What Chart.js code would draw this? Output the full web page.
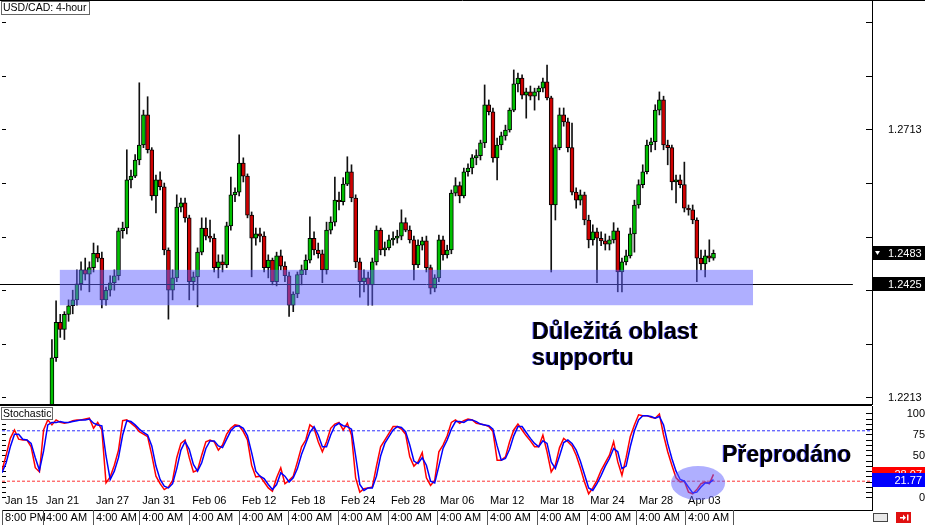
<!DOCTYPE html>
<html><head><meta charset="utf-8">
<script src="https://cdn.jsdelivr.net/npm/chart.js"></script>
<style>
html,body{margin:0;padding:0;background:#fff;width:925px;height:525px;overflow:hidden}
canvas{position:absolute;left:0;display:block}
#main{top:0}
#stoch{top:405px}
</style></head><body>
<canvas id="main" width="925" height="405"></canvas>
<canvas id="stoch" width="925" height="120"></canvas>
<script>
// ---------- DATA ----------
const chartTitle = 'USD/CAD: 4-hour';
const candleStart = 12;
const openP = [1.2135,1.2288,1.2354,1.2341,1.2369,1.2385,1.2396,1.2426,1.2452,1.2444,
1.2456,1.2483,1.2474,1.2396,1.2414,1.2428,1.2441,1.2525,1.2530,1.2620,
1.2627,1.2657,1.2685,1.2741,1.2676,1.2590,1.2620,1.2607,1.2489,1.2414,
1.2437,1.2569,1.2577,1.2549,1.2430,1.2439,1.2485,1.2530,1.2515,1.2511,
1.2456,1.2467,1.2461,1.2534,1.2592,1.2597,1.2651,1.2627,1.2554,1.2511,
1.2519,1.2515,1.2456,1.2470,1.2430,1.2478,1.2459,1.2441,1.2386,1.2407,
1.2443,1.2452,1.2470,1.2511,1.2489,1.2482,1.2452,1.2526,1.2541,1.2582,
1.2579,1.2612,1.2635,1.2586,1.2467,1.2430,1.2437,1.2424,1.2467,1.2526,
1.2489,1.2493,1.2508,1.2511,1.2515,1.2540,1.2526,1.2508,1.2461,1.2498,
1.2506,1.2456,1.2418,1.2437,1.2508,1.2480,1.2489,1.2595,1.2609,1.2590,
1.2635,1.2642,1.2661,1.2665,1.2689,1.2760,1.2747,1.2661,1.2685,1.2702,
1.2713,1.2750,1.2799,1.2810,1.2778,1.2784,1.2776,1.2784,1.2791,1.2803,
1.2773,1.2573,1.2680,1.2741,1.2728,1.2680,1.2597,1.2582,1.2592,1.2545,
1.2508,1.2523,1.2511,1.2506,1.2500,1.2508,1.2525,1.2448,1.2467,1.2478,
1.2519,1.2573,1.2611,1.2635,1.2685,1.2691,1.2750,1.2769,1.2685,1.2680,
1.2616,1.2620,1.2611,1.2567,1.2564,1.2545,1.2474,1.2463,1.2478,1.2474];
const highP = [1.2322,1.2394,1.2369,1.2374,1.2396,1.2414,1.2452,1.2467,1.2474,1.2467,
1.2502,1.2497,1.2485,1.2420,1.2441,1.2452,1.2530,1.2541,1.2676,1.2638,
1.2667,1.2801,1.2750,1.2775,1.2680,1.2629,1.2635,1.2614,1.2493,1.2452,
1.2592,1.2586,1.2586,1.2554,1.2448,1.2493,1.2549,1.2549,1.2545,1.2519,
1.2480,1.2480,1.2541,1.2625,1.2605,1.2704,1.2661,1.2631,1.2560,1.2530,
1.2530,1.2523,1.2480,1.2474,1.2485,1.2489,1.2467,1.2448,1.2411,1.2448,
1.2461,1.2480,1.2551,1.2523,1.2502,1.2489,1.2541,1.2551,1.2625,1.2597,
1.2624,1.2663,1.2648,1.2592,1.2474,1.2452,1.2448,1.2474,1.2534,1.2530,
1.2504,1.2517,1.2523,1.2526,1.2564,1.2549,1.2534,1.2515,1.2508,1.2513,
1.2515,1.2461,1.2443,1.2517,1.2515,1.2498,1.2601,1.2624,1.2616,1.2642,
1.2650,1.2667,1.2676,1.2694,1.2797,1.2769,1.2754,1.2698,1.2709,1.2722,
1.2754,1.2825,1.2819,1.2816,1.2791,1.2795,1.2791,1.2795,1.2810,1.2834,
1.2776,1.2685,1.2754,1.2754,1.2735,1.2726,1.2605,1.2601,1.2597,1.2554,
1.2536,1.2530,1.2523,1.2519,1.2515,1.2540,1.2530,1.2474,1.2489,1.2530,
1.2582,1.2620,1.2648,1.2694,1.2698,1.2760,1.2784,1.2776,1.2694,1.2685,
1.2629,1.2629,1.2653,1.2573,1.2573,1.2549,1.2489,1.2489,1.2508,1.2489];
const lowP = [1.2125,1.2281,1.2326,1.2322,1.2356,1.2370,1.2386,1.2414,1.2433,1.2411,
1.2448,1.2467,1.2381,1.2386,1.2403,1.2414,1.2433,1.2511,1.2519,1.2605,
1.2624,1.2648,1.2680,1.2670,1.2582,1.2558,1.2601,1.2480,1.2360,1.2396,
1.2430,1.2560,1.2541,1.2396,1.2414,1.2383,1.2480,1.2508,1.2504,1.2448,
1.2437,1.2448,1.2456,1.2526,1.2579,1.2590,1.2616,1.2549,1.2439,1.2498,
1.2504,1.2448,1.2437,1.2424,1.2422,1.2452,1.2430,1.2365,1.2374,1.2400,
1.2424,1.2443,1.2465,1.2480,1.2474,1.2428,1.2444,1.2519,1.2534,1.2564,
1.2573,1.2609,1.2579,1.2456,1.2401,1.2411,1.2386,1.2386,1.2461,1.2480,
1.2478,1.2489,1.2498,1.2502,1.2508,1.2523,1.2502,1.2433,1.2456,1.2489,
1.2448,1.2407,1.2411,1.2430,1.2470,1.2474,1.2482,1.2590,1.2577,1.2586,
1.2627,1.2631,1.2648,1.2657,1.2680,1.2741,1.2653,1.2620,1.2676,1.2694,
1.2709,1.2747,1.2784,1.2771,1.2735,1.2769,1.2750,1.2769,1.2784,1.2769,
1.2448,1.2545,1.2676,1.2720,1.2672,1.2592,1.2567,1.2573,1.2536,1.2493,
1.2498,1.2428,1.2497,1.2489,1.2489,1.2502,1.2411,1.2411,1.2461,1.2474,
1.2485,1.2567,1.2605,1.2631,1.2672,1.2676,1.2741,1.2676,1.2648,1.2601,
1.2577,1.2605,1.2560,1.2554,1.2538,1.2430,1.2452,1.2439,1.2467,1.2470];
const closeP = [1.2288,1.2354,1.2341,1.2369,1.2385,1.2396,1.2426,1.2452,1.2444,1.2456,
1.2483,1.2474,1.2396,1.2414,1.2428,1.2441,1.2525,1.2530,1.2620,1.2627,
1.2657,1.2685,1.2741,1.2676,1.2590,1.2620,1.2607,1.2489,1.2414,1.2437,
1.2569,1.2577,1.2549,1.2430,1.2439,1.2485,1.2530,1.2515,1.2511,1.2456,
1.2467,1.2461,1.2534,1.2592,1.2597,1.2651,1.2627,1.2554,1.2511,1.2519,
1.2515,1.2456,1.2470,1.2430,1.2478,1.2459,1.2441,1.2386,1.2407,1.2443,
1.2452,1.2470,1.2511,1.2489,1.2482,1.2452,1.2526,1.2541,1.2582,1.2579,
1.2612,1.2635,1.2586,1.2467,1.2430,1.2437,1.2424,1.2467,1.2526,1.2489,
1.2493,1.2508,1.2511,1.2515,1.2540,1.2526,1.2508,1.2461,1.2498,1.2506,
1.2456,1.2418,1.2437,1.2508,1.2480,1.2489,1.2595,1.2609,1.2590,1.2635,
1.2642,1.2661,1.2665,1.2689,1.2760,1.2747,1.2661,1.2685,1.2702,1.2713,
1.2750,1.2799,1.2810,1.2778,1.2784,1.2776,1.2784,1.2791,1.2803,1.2773,
1.2573,1.2680,1.2741,1.2728,1.2680,1.2597,1.2582,1.2592,1.2545,1.2508,
1.2523,1.2511,1.2506,1.2500,1.2508,1.2525,1.2448,1.2467,1.2478,1.2519,
1.2573,1.2611,1.2635,1.2685,1.2691,1.2750,1.2769,1.2685,1.2680,1.2616,
1.2620,1.2611,1.2567,1.2564,1.2545,1.2474,1.2463,1.2478,1.2474,1.2483];

const stochK = [33,51,71,81,70,69,69,61,36,31,
81,93,87,93,90,89,90,92,93,93,
94,95,83,90,81,18,25,39,57,92,
93,89,85,79,76,73,51,26,17,10,
13,21,48,65,69,48,31,33,51,67,
69,67,57,63,76,83,87,86,79,69,
39,25,26,19,12,8,24,36,17,21,
26,43,61,69,87,83,67,55,67,83,
88,90,81,89,75,24,7,11,12,13,
38,61,69,77,85,85,82,76,49,38,
43,54,24,15,21,55,63,74,90,93,
89,92,94,93,89,88,87,85,79,45,
45,49,67,81,88,81,74,68,61,61,
75,55,31,39,60,71,67,62,51,36,
19,5,12,21,33,42,51,67,43,27,
48,73,87,99,98,98,96,95,100,75,
55,39,24,19,20,7,5,10,17,19,
17,28.07];
const stochD = [30,42,61,76,76,70,69,65,48,33,
56,87,90,90,91,90,90,91,92,93,
93,94,89,87,86,50,22,32,48,75,
92,91,87,82,78,75,62,38,22,14,
12,17,35,57,67,58,40,32,42,59,
68,68,62,60,70,80,85,86,83,74,
54,32,26,23,16,10,16,30,26,19,
24,35,52,65,78,85,75,61,61,75,
86,89,86,85,82,50,16,9,12,12,
26,50,65,73,81,85,84,79,63,44,
41,48,39,20,18,38,59,69,82,91,
91,90,93,93,91,88,87,86,82,62,
45,47,58,74,85,85,78,71,65,61,
68,65,43,35,50,66,69,65,57,44,
28,12,9,17,27,38,47,59,55,35,
38,61,80,93,98,98,97,95,97,87,
65,47,32,22,20,13,6,7,13,18,
18,21.77];

const tickIndex = [0.7,10.6,22.6,33.7,45.7,57.7,69.5,81.5,93.5,105.3,117.3,129.3,141.4,153.1,164.9];
const dateLabels = ['Jan 15','Jan 21','Jan 27','Jan 31','Feb 06','Feb 12','Feb 18','Feb 24','Feb 28','Mar 06','Mar 12','Mar 18','Mar 24','Mar 28','Apr 03'];
const timeLabels = ['8:00 PM','4:00 AM','4:00 AM','4:00 AM','4:00 AM','4:00 AM','4:00 AM','4:00 AM','4:00 AM','4:00 AM','4:00 AM','4:00 AM','4:00 AM','4:00 AM','4:00 AM'];
const priceTicks = [1.2213,1.2313,1.2413,1.2513,1.2613,1.2713,1.2813,1.2913];
const priceTickLabels = ['1.2213','1.2713'];
const stochTicks = [0,6.25,12.5,18.75,25,31.25,37.5,43.75,50,56.25,62.5,68.75,75,81.25,87.5,93.75,100];
const stochTickLabels = [0,25,50,75,100];
const overboughtLevel = 80;
const oversoldLevel = 20;
const supportPrice = 1.2425;
const supportLineEnd = 204.5;
const bandRange = [13.9,180.5];
const bandPrices = [1.2452,1.2386];
const supportText = ['Důležitá oblast','supportu'];
const supportTextAt = [127.4,1.2323];
const oversoldText = 'Přeprodáno';
const oversoldTextAt = [173.1,42.9];
const oversoldZone = [167.3,17.9,6.5,20.2]; // index, value, index radius, value radius

// ---------- SCALES ----------
const X_MAX = 209.1;
const PRICE_MIN = 1.22017, PRICE_MAX = 1.29536;
const STOCH_MIN = -14.29, STOCH_MAX = 109.52;

Chart.defaults.font.family = '"Liberation Sans", Arial, sans-serif';
Chart.defaults.color = '#000';

const wickData = highP.map((h,i)=>({x:candleStart+i, y:[lowP[i], h]}));
const bodyData = openP.map((o,i)=>({x:candleStart+i, y:[o, closeP[i]]}));
const bodyColors = openP.map((o,i)=> closeP[i] >= o ? '#00c000' : '#d00000');

const BAND_FILL = 'rgba(96,96,255,0.5)';

function box(ctx, x, y, w, h, fill, stroke){
  ctx.fillStyle = fill; ctx.fillRect(x, y, w, h);
  if (stroke){ ctx.strokeStyle = stroke; ctx.lineWidth = 1; ctx.strokeRect(x+0.5, y+0.5, w-1, h-1); }
}
function fitV(w){ return s => { s.width = w; s.paddingTop = 0; s.paddingBottom = 0; }; }

const mainOverlay = {
  id:'mainOverlay',
  afterDatasetsDraw(chart){
    const {ctx, scales:{x, y}} = chart;
    ctx.save();
    const sy = Math.round(y.getPixelForValue(supportPrice)) + 0.5;
    ctx.strokeStyle = '#000'; ctx.lineWidth = 1;
    ctx.beginPath(); ctx.moveTo(0, sy); ctx.lineTo(x.getPixelForValue(supportLineEnd), sy); ctx.stroke();
    const bx0 = x.getPixelForValue(bandRange[0]), bx1 = x.getPixelForValue(bandRange[1]);
    const by0 = y.getPixelForValue(bandPrices[0]), by1 = y.getPixelForValue(bandPrices[1]);
    ctx.fillStyle = BAND_FILL;
    ctx.fillRect(bx0, by0, bx1-bx0, by1-by0);
    ctx.restore();
  },
  afterDraw(chart){
    const {ctx, scales:{x, y}, chartArea} = chart;
    ctx.save();
    ctx.strokeStyle = '#000'; ctx.lineWidth = 1;
    ctx.beginPath(); ctx.moveTo(0, 0.5); ctx.lineTo(925, 0.5); ctx.stroke();
    ctx.beginPath(); ctx.moveTo(0, 404.5); ctx.lineTo(chartArea.right, 404.5); ctx.stroke();
    box(ctx, 1, 1, 89, 14, '#fff', '#666');
    ctx.fillStyle = '#000'; ctx.font = '10.5px "Liberation Sans", Arial'; ctx.textBaseline = 'middle'; ctx.textAlign='left';
    ctx.fillText(chartTitle, 3, 8.5);
    const tx = x.getPixelForValue(supportTextAt[0]), ty = y.getPixelForValue(supportTextAt[1]);
    ctx.font = 'bold 23.5px "Liberation Sans", Arial'; ctx.textBaseline = 'alphabetic';
    supportText.forEach((t, i) => {
      ctx.fillStyle = 'rgba(60,60,255,0.9)'; ctx.fillText(t, tx-1, ty + i*26);
      ctx.fillStyle = '#000'; ctx.fillText(t, tx, ty + i*26);
    });
    const right = chartArea.right;
    ctx.font = '11px "Liberation Sans", Arial'; ctx.textBaseline = 'middle';
    const last = closeP[closeP.length-1];
    [[last, true],[supportPrice, false]].forEach(([p, tri]) => {
      const py = Math.round(y.getPixelForValue(p));
      ctx.fillStyle = '#000'; ctx.fillRect(right, py-7, 925-right, 14);
      ctx.fillStyle = '#fff'; ctx.fillText(p.toFixed(4), right+16, py+0.5);
      if (tri){ ctx.beginPath(); ctx.moveTo(right+3, py-2); ctx.lineTo(right+8, py-2); ctx.lineTo(right+5.5, py+2); ctx.closePath(); ctx.fill(); }
    });
    ctx.restore();
  }
};

new Chart(document.getElementById('main'), {
  data:{ datasets:[
    {type:'bar', data:wickData, backgroundColor:'#111', barThickness:1, grouped:false, order:2, xAxisID:'x', yAxisID:'y'},
    {type:'bar', data:bodyData, backgroundColor:bodyColors, borderColor:'#000', borderWidth:1, borderSkipped:false, barThickness:4, minBarLength:1, grouped:false, order:1, xAxisID:'x', yAxisID:'y'}
  ]},
  options:{
    responsive:false, animation:false, devicePixelRatio:1, events:[],
    layout:{padding:{top:1, bottom:1, left:0, right:0}, autoPadding:false},
    plugins:{legend:{display:false}, tooltip:{enabled:false}},
    scales:{
      x:{type:'linear', min:0, max:X_MAX, display:false, offset:false, grid:{offset:false}},
      y:{type:'linear', position:'right', min:PRICE_MIN, max:PRICE_MAX, beginAtZero:false,
         afterFit:fitV(53),
         afterBuildTicks:s=>{s.ticks = priceTicks.map(v=>({value:v}));},
         ticks:{autoSkip:false, padding:22, color:'#000', font:{size:11}, callback:v=> priceTickLabels.includes(v.toFixed(4)) ? v.toFixed(4) : ''},
         grid:{drawOnChartArea:false, tickLength:-6, color:'#000'}, border:{color:'#000'}},
      yl:{type:'linear', position:'left', min:PRICE_MIN, max:PRICE_MAX,
         afterFit:fitV(2),
         afterBuildTicks:s=>{s.ticks = priceTicks.map(v=>({value:v}));},
         ticks:{display:false},
         grid:{drawOnChartArea:false, tickLength:-4, color:'#000'}, border:{display:false}}
    }
  },
  plugins:[mainOverlay]
});

const stochOverlay = {
  id:'stochOverlay',
  afterDatasetsDraw(chart){
    const {ctx, scales:{x, y}} = chart;
    ctx.save();
    const cx = x.getPixelForValue(oversoldZone[0]), cy = y.getPixelForValue(oversoldZone[1]);
    const rx = x.getPixelForValue(oversoldZone[0]+oversoldZone[2]) - cx;
    const ry = cy - y.getPixelForValue(oversoldZone[1]+oversoldZone[3]);
    ctx.fillStyle = BAND_FILL;
    ctx.beginPath(); ctx.ellipse(cx, cy, rx, ry, 0, 0, Math.PI*2); ctx.fill();
    const tx = x.getPixelForValue(oversoldTextAt[0]), ty = y.getPixelForValue(oversoldTextAt[1]);
    ctx.font = 'bold 23px "Liberation Sans", Arial'; ctx.textBaseline='alphabetic'; ctx.textAlign='left';
    ctx.fillStyle = 'rgba(60,60,255,0.9)'; ctx.fillText(oversoldText, tx-1, ty);
    ctx.fillStyle = '#000'; ctx.fillText(oversoldText, tx, ty);
    ctx.restore();
  },
  afterDraw(chart){
    const {ctx, scales:{x, y}, chartArea} = chart;
    ctx.save();
    ctx.strokeStyle = '#000'; ctx.lineWidth = 1;
    ctx.beginPath(); ctx.moveTo(0, 0.5); ctx.lineTo(chartArea.right, 0.5); ctx.stroke();
    box(ctx, 1, 2, 52, 13, '#fff', '#666');
    ctx.fillStyle = '#000'; ctx.font = '10.5px "Liberation Sans", Arial'; ctx.textBaseline='middle'; ctx.textAlign='left';
    ctx.fillText('Stochastic', 3, 9);
    ctx.strokeStyle = '#555';
    const seps = tickIndex.map(v => Math.round(x.getPixelForValue(v)) - 2.5);
    seps.push(seps[seps.length-1] + 48);
    seps.forEach(px => { ctx.beginPath(); ctx.moveTo(px, chartArea.bottom); ctx.lineTo(px, 120); ctx.stroke(); });
    const right = chartArea.right;
    ctx.font = '11px "Liberation Sans", Arial'; ctx.textAlign='right';
    [[stochK[stochK.length-1], '#ff0000'],[stochD[stochD.length-1], '#0000ff']].forEach(([v, c]) => {
      const py = Math.round(y.getPixelForValue(v));
      ctx.fillStyle = c; ctx.fillRect(right, py-7, 925-right, 14);
      ctx.fillStyle = '#fff'; ctx.fillText(v.toFixed(2), 922, py+0.5);
    });
    box(ctx, 873, 108, 15, 9, '#e8e8e8', '#444');
    box(ctx, 896, 107, 15, 11, '#e01010', null);
    ctx.fillStyle = '#fff'; ctx.fillRect(900, 112, 5, 1.5);
    ctx.beginPath(); ctx.moveTo(903, 109.5); ctx.lineTo(906, 112.7); ctx.lineTo(903, 115.5); ctx.closePath(); ctx.fill();
    ctx.fillRect(907, 109.5, 1.5, 6);
    ctx.restore();
  }
};

const levelLine = (lv, color) => ({data:[{x:0,y:lv},{x:X_MAX,y:lv}], borderColor:color, borderWidth:1, borderDash:[3,2], pointRadius:0, fill:false, order:5});

new Chart(document.getElementById('stoch'), {
  type:'line',
  data:{ datasets:[
    levelLine(overboughtLevel, '#3030ff'),
    levelLine(oversoldLevel, '#ff3030'),
    {data:stochK.map((v,i)=>({x:i, y:v})), borderColor:'#ff0000', borderWidth:1.5, pointRadius:0, tension:0, fill:false, order:2},
    {data:stochD.map((v,i)=>({x:i, y:v})), borderColor:'#0000ff', borderWidth:1.5, pointRadius:0, tension:0, fill:false, order:1}
  ]},
  options:{
    responsive:false, animation:false, devicePixelRatio:1, events:[],
    layout:{padding:{top:1, bottom:0, left:0, right:0}, autoPadding:false},
    plugins:{legend:{display:false}, tooltip:{enabled:false}},
    scales:{
      x:{type:'linear', position:'bottom', min:0, max:X_MAX, offset:false,
         afterFit:s=>{s.height=15; s.paddingLeft=0; s.paddingRight=0;},
         afterBuildTicks:s=>{s.ticks = tickIndex.map(v=>({value:v}));},
         ticks:{autoSkip:false, maxRotation:0, minRotation:0, align:'start', mirror:true, padding:0.5, color:'#000',
                font:{size:11, lineHeight:17/11}, callback:(v,i)=>[dateLabels[i], timeLabels[i]]},
         grid:{drawOnChartArea:false, drawTicks:false}, border:{display:true, color:'#000'}},
      y:{type:'linear', position:'right', min:STOCH_MIN, max:STOCH_MAX,
         afterFit:fitV(53),
         afterBuildTicks:s=>{s.ticks = stochTicks.map(v=>({value:v}));},
         ticks:{autoSkip:false, crossAlign:'far', padding:24, color:'#000', font:{size:11},
                callback:v=> stochTickLabels.includes(v) ? String(v) : ''},
         grid:{drawOnChartArea:false, tickLength:-6, color:'#000'}, border:{color:'#000'}},
      yl:{type:'linear', position:'left', min:STOCH_MIN, max:STOCH_MAX,
         afterFit:fitV(2),
         afterBuildTicks:s=>{s.ticks = stochTicks.map(v=>({value:v}));},
         ticks:{display:false},
         grid:{drawOnChartArea:false, tickLength:-4, color:'#000'}, border:{display:false}}
    }
  },
  plugins:[stochOverlay]
});
</script></body></html>
